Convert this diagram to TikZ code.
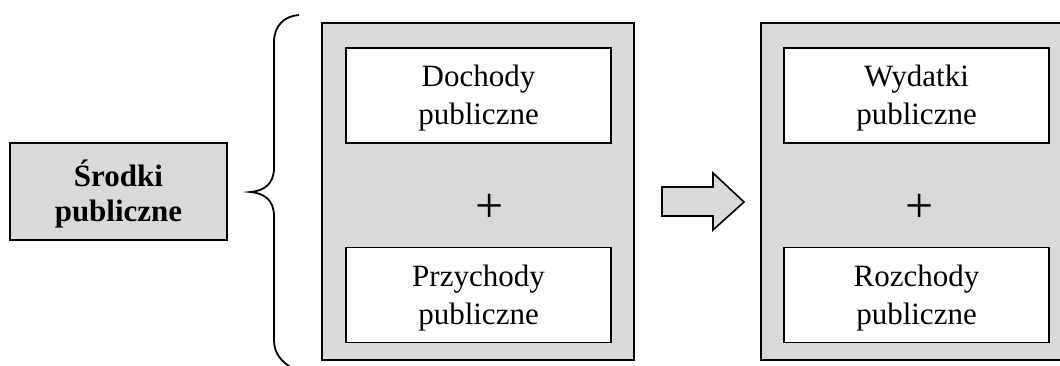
\documentclass[tikz,border=0pt]{standalone}
\usepackage{fontspec}
\setmainfont{Liberation Serif}
\begin{document}
\begin{tikzpicture}[x=1pt,y=-1pt,
  line width=1.6pt,
  shaded/.style={draw=black, fill=black!15},
  outerbox/.style={shaded, rectangle, minimum width=312pt, minimum height=337pt, inner sep=0pt},
  innerbox/.style={draw=black, fill=white, rectangle, minimum width=265pt, minimum height=95pt, inner sep=0pt},
  boxtext/.style={inner sep=0pt, align=center, yshift=-3pt, font=\fontsize{31}{38}\selectfont},
  plussign/.style={inner sep=0pt, font=\fontsize{50}{50}\selectfont}]
\useasboundingbox (0,0) rectangle (1060,365);
\clip (0,0) rectangle (1060,365);

% source of public funds
\node[shaded, rectangle, minimum width=217pt, minimum height=97pt, inner sep=0pt] (srodki) at (118.5,191.5) {};
\node[inner sep=0pt, align=center, yshift=-2.5pt, font=\bfseries\fontsize{31}{35}\selectfont]
  (srodkiT) at (srodki.center) {Środki\\publiczne};

% curly brace
\draw[line width=1.8pt] (299,15) .. controls (284,16) and (274,26) .. (274,42)
  -- (274,168) .. controls (274,184) and (264,191) .. (250,192)
  .. controls (264,193) and (274,200) .. (274,216)
  -- (274,340) .. controls (274,354) and (282,362) .. (292,368);

% revenues
\node[outerbox] (left) at (478,191.5) {};
\node[innerbox] (doch) at (478.5,95.5) {};
\node[boxtext] (dochT) at (doch.center) {Dochody\\publiczne};
\node[innerbox] (przych) at (478.5,295) {};
\node[boxtext] (przychT) at (przych.center) {Przychody\\publiczne};
\node[plussign] (plusL) at (490,208) {+};

% expenditures
\node[outerbox] (right) at (917,191.5) {};
\node[innerbox] (wyd) at (916.5,95.5) {};
\node[boxtext] (wydT) at (wyd.center) {Wydatki\\publiczne};
\node[innerbox] (rozch) at (916.5,295) {};
\node[boxtext] (rozchT) at (rozch.center) {Rozchody\\publiczne};
\node[plussign] (plusR) at (920,208) {+};

% block arrow
\draw[shaded, line join=miter] (662,187) -- (713,187) -- (713,173) -- (744,202)
  -- (713,230) -- (713,216) -- (662,216) -- cycle;
\end{tikzpicture}
\end{document}
